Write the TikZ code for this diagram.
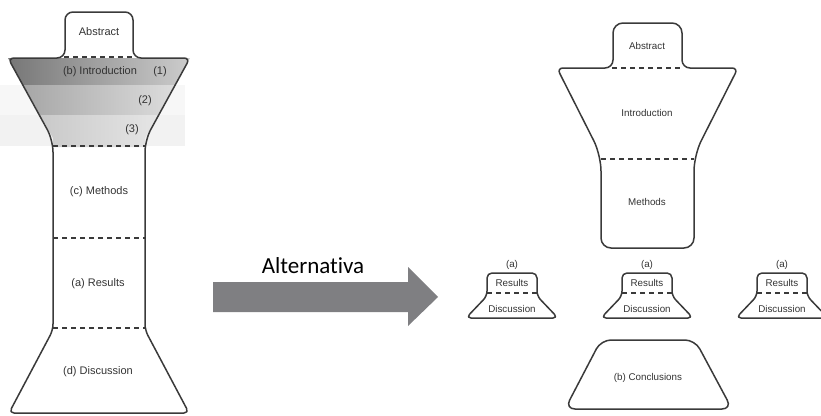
\documentclass[tikz,border=0pt]{standalone}
\usepackage{fontspec}
\setmainfont{Liberation Sans}
\newfontfamily\calfont[Ligatures=NoCommon]{Carlito}
\definecolor{linecol}{HTML}{3A3A3A}
\definecolor{txtcol}{HTML}{333333}
\definecolor{arrowcol}{HTML}{7F7F82}
\begin{document}
\begin{tikzpicture}[x=1pt,y=-1pt,
  outline/.style={draw=linecol, line width=1.5pt, line join=round},
  sep/.style={draw=linecol, line width=1.5pt, dash pattern=on 5pt off 4pt},
  lbl/.style={text=txtcol, font=\fontsize{11}{13}\selectfont, inner sep=0pt},
  sml/.style={text=txtcol, font=\fontsize{9.8}{11}\selectfont, inner sep=0pt}]
\useasboundingbox (0,0) rectangle (821,415);

% ---------- left funnel: gradient bands ----------
\fill[black!3] (0,85) rectangle (185,115);
\fill[black!5] (0,115) rectangle (185,146);
\begin{scope}
  \clip (8,58) -- (190,58) -- (145,138) -- (145,147) -- (53,147) -- (53,138) -- cycle;
  \shade[left color=black!55, right color=black!18] (0,57) rectangle (200,85);
  \shade[left color=black!38, right color=black!10] (0,85) rectangle (200,115);
  \shade[left color=black!25, right color=black!6] (0,115) rectangle (200,147);
\end{scope}

% ---------- left funnel outline ----------
\draw[outline] (99,413) [rounded corners=5pt] -- (9,413) [rounded corners=6pt] -- (53,330)
  [rounded corners=12pt] -- (53,140) [rounded corners=6pt] -- (8,58)
  [rounded corners=8pt] -- (65,58) -- (65,12) -- (133,12) -- (133,58)
  [rounded corners=6pt] -- (190,58) [rounded corners=12pt] -- (145,140)
  [rounded corners=6pt] -- (145,330) [rounded corners=5pt] -- (189,413) -- cycle;
\coordinate (d1a) at (64,57);  \coordinate (d1b) at (134,57);
\coordinate (d2a) at (53,146); \coordinate (d2b) at (145,146);
\coordinate (d3a) at (53,238); \coordinate (d3b) at (145,238);
\coordinate (d4a) at (53,328); \coordinate (d4b) at (145,328);
\draw[sep] (d1a) -- (d1b);
\draw[sep] (d2a) -- (d2b);
\draw[sep] (d3a) -- (d3b);
\draw[sep] (d4a) -- (d4b);

\node[lbl] (labs) at (99,32) {Abstract};
\node[lbl] (lintro) at (100,72) {(b) Introduction};
\node[lbl] (n1) at (160,72) {(1)};
\node[lbl] (n2) at (145,101) {(2)};
\node[lbl] (n3) at (132,130) {(3)};
\node[lbl] (lmeth) at (99,192) {(c) Methods};
\node[lbl] (lres) at (98,284) {(a) Results};
\node[lbl] (ldisc) at (98,372) {(d) Discussion};

% ---------- arrow ----------
\fill[arrowcol] (213,282) -- (408,282) -- (408,267) -- (438,297) -- (408,326) -- (408,312) -- (213,312) -- cycle;
\node[font=\calfont\fontsize{23}{26}\selectfont, text=black, inner sep=0pt] (alt) at (313,266) {Alternativa};

% ---------- right big shape ----------
\draw[outline] (647,248) [rounded corners=10pt] -- (601,248) [rounded corners=16pt] -- (601,155)
  [rounded corners=6pt] -- (557,68) [rounded corners=8pt] -- (613,68) [rounded corners=10pt] -- (613,23) -- (682,23)
  [rounded corners=8pt] -- (682,68)
  [rounded corners=6pt] -- (738,68) [rounded corners=16pt] -- (694,155)
  [rounded corners=10pt] -- (694,248) -- cycle;
\coordinate (r1a) at (612,68); \coordinate (r1b) at (683,68);
\coordinate (r2a) at (601,159); \coordinate (r2b) at (694,159);
\draw[sep] (r1a) -- (r1b);
\draw[sep] (r2a) -- (r2b);
\node[sml] (rabs) at (647,46) {Abstract};
\node[sml] (rintro) at (647,113) {Introduction};
\node[sml] (rmeth) at (647,202) {Methods};

% ---------- small shapes ----------
\foreach \c/\n in {512/a, 647/b, 782/c}{
  \draw[outline, rounded corners=5pt] (\c,318) -- (\c-46,318) -- (\c-25,296) -- (\c-25,273)
    -- (\c+25,273) -- (\c+25,296) -- (\c+46,318) -- cycle;
  \draw[sep] (\c-25,293) -- (\c+25,293);
  \node[sml] (sa\n) at (\c,265) {(a)};
  \node[sml] (sr\n) at (\c,283) {Results};
  \node[sml] (sd\n) at (\c,309) {Discussion};
}

% ---------- conclusions ----------
\draw[outline, rounded corners=10pt] (648,409) -- (565,409) -- (601,340) -- (695,340) -- (732,409) -- cycle;
\node[sml] (concl) at (648,378) {(b) Conclusions};
\end{tikzpicture}
\end{document}
